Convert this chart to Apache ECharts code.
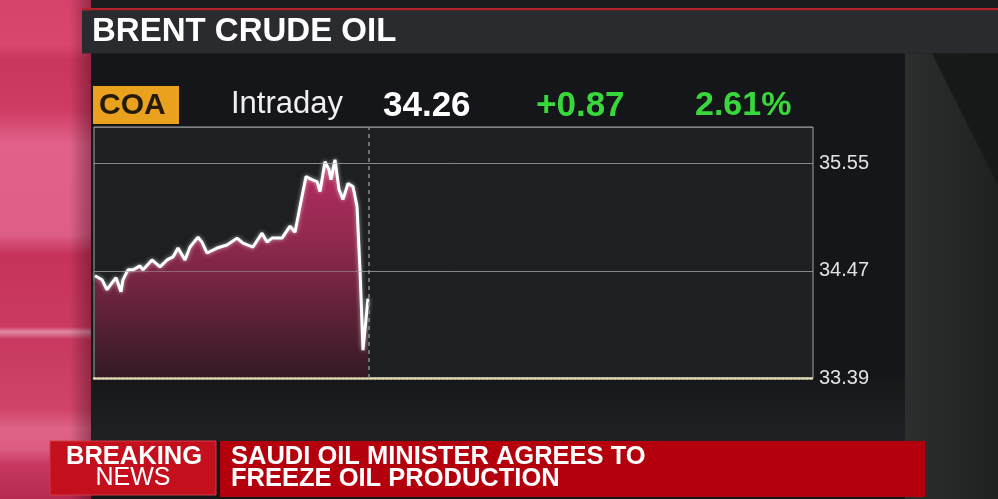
<!DOCTYPE html>
<html>
<head>
<meta charset="utf-8">
<title>Brent Crude Oil</title>
<script src="https://cdn.jsdelivr.net/npm/echarts@6/dist/echarts.min.js"></script>
<style>
  html, body { margin: 0; padding: 0; background: #151619; }
  #chart { width: 998px; height: 499px; }
</style>
</head>
<body>
<div id="chart"></div>
<script>
// intraday position (session start = 0, session end = 719)
var times = [1, 3, 8, 13, 18, 22, 27, 29, 34, 39, 46, 49, 58, 66, 73, 79, 84, 91, 96,
  104, 108, 113, 123, 133, 143, 149, 159, 168, 173, 178, 188, 196, 201, 206, 212,
  218, 223, 226, 231, 235, 237, 241, 245, 249, 254, 259, 263, 266, 269, 274];
var prices = [34.42, 34.40, 34.38, 34.28, 34.35, 34.40, 34.26, 34.38, 34.48, 34.48, 34.52,
  34.48, 34.58, 34.51, 34.58, 34.61, 34.70, 34.58, 34.71, 34.81, 34.76, 34.65, 34.70,
  34.73, 34.80, 34.75, 34.71, 34.85, 34.76, 34.80, 34.80, 34.92, 34.86, 35.12, 35.42,
  35.39, 35.37, 35.27, 35.57, 35.49, 35.39, 35.59, 35.29, 35.19, 35.35, 35.32, 35.12,
  34.48, 33.67, 34.19];
var yTicks = [33.39, 34.47, 35.55];
var nowMark = 275;

var quote = { ticker: 'COA', period: 'Intraday', last: '34.26', change: '+0.87', pct: '2.61%' };
var headline = ['SAUDI OIL MINISTER AGREES TO', 'FREEZE OIL PRODUCTION'];

var font = "'Liberation Sans', Arial, Helvetica, sans-serif";
var chart = echarts.init(document.getElementById('chart'));

var seriesData = times.map(function (t, i) { return [t, prices[i]]; });

// grid lines drawn over the area fill
var gridMarks = yTicks.slice(1).map(function (v) {
  return { yAxis: v, lineStyle: { color: 'rgba(160,160,160,0.55)', type: 'solid', width: 1 } };
});

var bg = [
  { type: 'rect', z: -20, shape: { x: 0, y: 0, width: 998, height: 499 }, style: { fill: '#151619' } },
  { type: 'rect', z: -19, shape: { x: 0, y: 0, width: 91, height: 499 },
    style: { fill: new echarts.graphic.LinearGradient(0, 0, 0, 1, [
      { offset: 0, color: '#d6426a' }, { offset: 0.09, color: '#d9476d' },
      { offset: 0.12, color: '#c9355c' }, { offset: 0.22, color: '#cf3c63' },
      { offset: 0.29, color: '#e0628b' }, { offset: 0.47, color: '#dd5f87' },
      { offset: 0.51, color: '#c6325a' }, { offset: 0.655, color: '#cb3b61' },
      { offset: 0.665, color: '#e18aa3' }, { offset: 0.68, color: '#c9395f' },
      { offset: 0.82, color: '#d04468' }, { offset: 0.86, color: '#df6388' },
      { offset: 0.9, color: '#dc5d83' }, { offset: 0.93, color: '#c83862' },
      { offset: 1, color: '#b52850' }]) } },
  { type: 'rect', z: -18, shape: { x: 70, y: 0, width: 21, height: 499 },
    style: { fill: new echarts.graphic.LinearGradient(0, 0, 1, 0, [
      { offset: 0, color: 'rgba(0,0,0,0)' }, { offset: 1, color: 'rgba(40,0,10,0.35)' }]) } },
  { type: 'rect', z: -17, shape: { x: 91, y: 0, width: 907, height: 9 }, style: { fill: '#1b1c1e' } },
  { type: 'rect', z: -16, shape: { x: 82, y: 8, width: 916, height: 2.5 }, style: { fill: '#b3222c' } },
  { type: 'rect', z: -16, shape: { x: 82, y: 10.5, width: 916, height: 43 }, style: { fill: '#2a2b2e' } },
  { type: 'rect', z: -16, shape: { x: 905, y: 53.5, width: 93, height: 446 },
    style: { fill: new echarts.graphic.LinearGradient(0, 0, 1, 0, [
      { offset: 0, color: '#2d2e2e' }, { offset: 1, color: '#1f2020' }]) } },
  { type: 'polygon', z: -15, shape: { points: [[932, 53.5], [998, 53.5], [998, 185]] }, style: { fill: '#171818' } },
  { type: 'rect', z: -15, shape: { x: 91, y: 380, width: 814, height: 61 },
    style: { fill: new echarts.graphic.LinearGradient(0, 0, 0, 1, [
      { offset: 0, color: '#17181a' }, { offset: 1, color: '#202124' }]) } },
  { type: 'rect', z: 10, shape: { x: 50, y: 441, width: 166, height: 54 },
    style: { fill: '#c4101c', stroke: '#d43a46', lineWidth: 1 } },
  { type: 'rect', z: 10, shape: { x: 220, y: 441, width: 705, height: 56 }, style: { fill: '#b3000c' } },
  { type: 'rect', z: 10, shape: { x: 93, y: 86, width: 86, height: 38 }, style: { fill: '#eaa11e' } }
];

var texts = [
  { type: 'text', z: 20, x: 92, y: 32,
    style: { text: 'BRENT CRUDE OIL', fill: '#ffffff', font: 'bold 33px ' + font, verticalAlign: 'middle' } },
  { type: 'text', z: 20, x: 99, y: 106,
    style: { text: quote.ticker, fill: '#241a0c', font: 'bold 30px ' + font, verticalAlign: 'middle' } },
  { type: 'text', z: 20, x: 231, y: 104,
    style: { text: quote.period, fill: '#f0f0f0', font: '31px ' + font, verticalAlign: 'middle' } },
  { type: 'text', z: 20, x: 383, y: 106,
    style: { text: quote.last, fill: '#ffffff', font: 'bold 35px ' + font, verticalAlign: 'middle' } },
  { type: 'text', z: 20, x: 536, y: 106,
    style: { text: quote.change, fill: '#38d83c', font: 'bold 35px ' + font, verticalAlign: 'middle' } },
  { type: 'text', z: 20, x: 695, y: 106,
    style: { text: quote.pct, fill: '#38d83c', font: 'bold 34px ' + font, verticalAlign: 'middle' } },
  { type: 'text', z: 20, x: 134, y: 457,
    style: { text: 'BREAKING', fill: '#ffffff', font: 'bold 25.5px ' + font, align: 'center', verticalAlign: 'middle' } },
  { type: 'text', z: 20, x: 133, y: 478.5,
    style: { text: 'NEWS', fill: '#ffffff', font: '25px ' + font, align: 'center', verticalAlign: 'middle' } },
  { type: 'text', z: 20, x: 231, y: 457,
    style: { text: headline[0], fill: '#ffffff', font: 'bold 25.5px ' + font, verticalAlign: 'middle' } },
  { type: 'text', z: 20, x: 231, y: 478.5,
    style: { text: headline[1], fill: '#ffffff', font: 'bold 25.5px ' + font, verticalAlign: 'middle' } }
];

var option = {
  animation: false,
  backgroundColor: '#151619',
  graphic: bg.concat(texts),
  grid: {
    left: 94, right: 185, top: 127, bottom: 121,
    show: true,
    backgroundColor: '#1d1f22',
    borderColor: '#a6a6a6',
    borderWidth: 1
  },
  xAxis: {
    type: 'value',
    min: 0,
    max: 719,
    z: 4,
    axisLabel: { show: false },
    axisTick: { show: false },
    splitLine: { show: false },
    axisLine: { show: true, lineStyle: { color: '#e2dab2', width: 2.5, type: [2, 2] } }
  },
  yAxis: {
    type: 'value',
    position: 'right',
    min: yTicks[0],
    max: 35.92,
    interval: 1.08,
    axisLine: { show: false },
    axisTick: { show: false },
    axisLabel: {
      color: '#e2e2e2',
      fontSize: 20,
      fontFamily: font,
      margin: 6,
      showMaxLabel: false,
      formatter: function (v) { return v.toFixed(2); }
    },
    splitLine: { show: true, lineStyle: { color: 'rgba(150,150,150,0.6)', width: 1 } }
  },
  series: [{
    type: 'line',
    data: seriesData,
    showSymbol: false,
    smooth: false,
    lineStyle: { color: '#ffffff', width: 3, shadowColor: 'rgba(255,255,255,0.6)', shadowBlur: 4 },
    areaStyle: {
      origin: 'start',
      opacity: 1,
      color: new echarts.graphic.LinearGradient(0, 0, 0, 1, [
        { offset: 0, color: '#b82c62' },
        { offset: 0.4, color: '#8c284d' },
        { offset: 1, color: '#331a24' }
      ])
    },
    markLine: {
      silent: true,
      symbol: 'none',
      label: { show: false },
      lineStyle: { color: '#8a8a8a', type: [4, 4], width: 1.5 },
      data: [{ xAxis: nowMark }].concat(gridMarks)
    }
  }]
};

chart.setOption(option);
</script>
</body>
</html>
